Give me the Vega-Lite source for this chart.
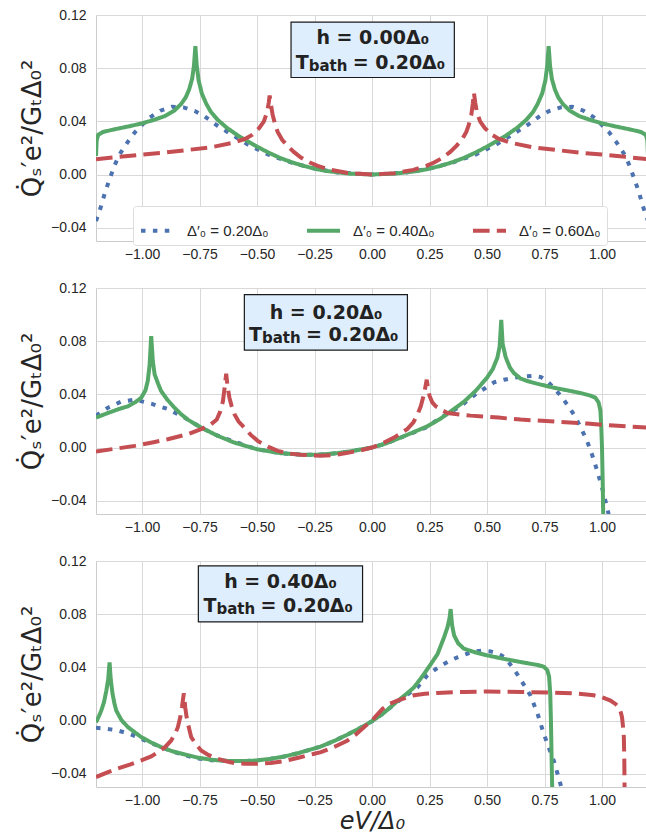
{
"$schema": "https://vega.github.io/schema/vega-lite/v6.json",
"background": "white",
"padding": {"left": 19, "top": 7, "right": 0, "bottom": 4},
"spacing": 18,
"datasets": {
"p1": [
{"s":"Δ′₀ = 0.20Δ₀","x":-1.2,"y":-0.035},{"s":"Δ′₀ = 0.20Δ₀","x":-1.18,"y":-0.025},{"s":"Δ′₀ = 0.20Δ₀","x":-1.16,"y":-0.013},{"s":"Δ′₀ = 0.20Δ₀","x":-1.14,"y":-0.003},{"s":"Δ′₀ = 0.20Δ₀","x":-1.12,"y":0.0065},{"s":"Δ′₀ = 0.20Δ₀","x":-1.1,"y":0.0145},{"s":"Δ′₀ = 0.20Δ₀","x":-1.06,"y":0.025},{"s":"Δ′₀ = 0.20Δ₀","x":-1.03,"y":0.032},{"s":"Δ′₀ = 0.20Δ₀","x":-0.97,"y":0.0425},{"s":"Δ′₀ = 0.20Δ₀","x":-0.92,"y":0.048},{"s":"Δ′₀ = 0.20Δ₀","x":-0.87,"y":0.051},{"s":"Δ′₀ = 0.20Δ₀","x":-0.82,"y":0.0505},{"s":"Δ′₀ = 0.20Δ₀","x":-0.77,"y":0.0478},{"s":"Δ′₀ = 0.20Δ₀","x":-0.73,"y":0.044},{"s":"Δ′₀ = 0.20Δ₀","x":-0.67,"y":0.0365},{"s":"Δ′₀ = 0.20Δ₀","x":-0.6,"y":0.029},{"s":"Δ′₀ = 0.20Δ₀","x":-0.54,"y":0.0225},{"s":"Δ′₀ = 0.20Δ₀","x":-0.45,"y":0.015},{"s":"Δ′₀ = 0.20Δ₀","x":-0.35,"y":0.009},{"s":"Δ′₀ = 0.20Δ₀","x":-0.25,"y":0.0045},{"s":"Δ′₀ = 0.20Δ₀","x":-0.15,"y":0.0015},{"s":"Δ′₀ = 0.20Δ₀","x":0,"y":0},{"s":"Δ′₀ = 0.20Δ₀","x":0.15,"y":0.0015},{"s":"Δ′₀ = 0.20Δ₀","x":0.25,"y":0.0045},{"s":"Δ′₀ = 0.20Δ₀","x":0.35,"y":0.009},{"s":"Δ′₀ = 0.20Δ₀","x":0.45,"y":0.015},{"s":"Δ′₀ = 0.20Δ₀","x":0.54,"y":0.0225},{"s":"Δ′₀ = 0.20Δ₀","x":0.6,"y":0.029},{"s":"Δ′₀ = 0.20Δ₀","x":0.67,"y":0.0365},{"s":"Δ′₀ = 0.20Δ₀","x":0.73,"y":0.044},{"s":"Δ′₀ = 0.20Δ₀","x":0.77,"y":0.0478},{"s":"Δ′₀ = 0.20Δ₀","x":0.82,"y":0.0505},{"s":"Δ′₀ = 0.20Δ₀","x":0.87,"y":0.051},{"s":"Δ′₀ = 0.20Δ₀","x":0.92,"y":0.048},{"s":"Δ′₀ = 0.20Δ₀","x":0.97,"y":0.0425},{"s":"Δ′₀ = 0.20Δ₀","x":1.03,"y":0.032},{"s":"Δ′₀ = 0.20Δ₀","x":1.06,"y":0.025},{"s":"Δ′₀ = 0.20Δ₀","x":1.1,"y":0.0145},{"s":"Δ′₀ = 0.20Δ₀","x":1.12,"y":0.0065},{"s":"Δ′₀ = 0.20Δ₀","x":1.14,"y":-0.003},{"s":"Δ′₀ = 0.20Δ₀","x":1.16,"y":-0.013},{"s":"Δ′₀ = 0.20Δ₀","x":1.18,"y":-0.025},{"s":"Δ′₀ = 0.20Δ₀","x":1.2,"y":-0.035},
{"s":"Δ′₀ = 0.40Δ₀","x":-1.2,"y":0.014},{"s":"Δ′₀ = 0.40Δ₀","x":-1.197,"y":0.026},{"s":"Δ′₀ = 0.40Δ₀","x":-1.19,"y":0.03},{"s":"Δ′₀ = 0.40Δ₀","x":-1.17,"y":0.032},{"s":"Δ′₀ = 0.40Δ₀","x":-1.12,"y":0.034},{"s":"Δ′₀ = 0.40Δ₀","x":-1.05,"y":0.0365},{"s":"Δ′₀ = 0.40Δ₀","x":-1.0,"y":0.0385},{"s":"Δ′₀ = 0.40Δ₀","x":-0.95,"y":0.041},{"s":"Δ′₀ = 0.40Δ₀","x":-0.9,"y":0.044},{"s":"Δ′₀ = 0.40Δ₀","x":-0.86,"y":0.048},{"s":"Δ′₀ = 0.40Δ₀","x":-0.83,"y":0.053},{"s":"Δ′₀ = 0.40Δ₀","x":-0.81,"y":0.058},{"s":"Δ′₀ = 0.40Δ₀","x":-0.795,"y":0.064},{"s":"Δ′₀ = 0.40Δ₀","x":-0.782,"y":0.072},{"s":"Δ′₀ = 0.40Δ₀","x":-0.774,"y":0.082},{"s":"Δ′₀ = 0.40Δ₀","x":-0.768,"y":0.0965},{"s":"Δ′₀ = 0.40Δ₀","x":-0.762,"y":0.082},{"s":"Δ′₀ = 0.40Δ₀","x":-0.754,"y":0.071},{"s":"Δ′₀ = 0.40Δ₀","x":-0.74,"y":0.061},{"s":"Δ′₀ = 0.40Δ₀","x":-0.72,"y":0.053},{"s":"Δ′₀ = 0.40Δ₀","x":-0.7,"y":0.047},{"s":"Δ′₀ = 0.40Δ₀","x":-0.67,"y":0.041},{"s":"Δ′₀ = 0.40Δ₀","x":-0.63,"y":0.035},{"s":"Δ′₀ = 0.40Δ₀","x":-0.58,"y":0.029},{"s":"Δ′₀ = 0.40Δ₀","x":-0.54,"y":0.025},{"s":"Δ′₀ = 0.40Δ₀","x":-0.5,"y":0.021},{"s":"Δ′₀ = 0.40Δ₀","x":-0.45,"y":0.0165},{"s":"Δ′₀ = 0.40Δ₀","x":-0.4,"y":0.0125},{"s":"Δ′₀ = 0.40Δ₀","x":-0.35,"y":0.0093},{"s":"Δ′₀ = 0.40Δ₀","x":-0.3,"y":0.0066},{"s":"Δ′₀ = 0.40Δ₀","x":-0.25,"y":0.0044},{"s":"Δ′₀ = 0.40Δ₀","x":-0.2,"y":0.0027},{"s":"Δ′₀ = 0.40Δ₀","x":-0.1,"y":0.0007},{"s":"Δ′₀ = 0.40Δ₀","x":0,"y":0},{"s":"Δ′₀ = 0.40Δ₀","x":0.1,"y":0.0007},{"s":"Δ′₀ = 0.40Δ₀","x":0.2,"y":0.0027},{"s":"Δ′₀ = 0.40Δ₀","x":0.25,"y":0.0044},{"s":"Δ′₀ = 0.40Δ₀","x":0.3,"y":0.0066},{"s":"Δ′₀ = 0.40Δ₀","x":0.35,"y":0.0093},{"s":"Δ′₀ = 0.40Δ₀","x":0.4,"y":0.0125},{"s":"Δ′₀ = 0.40Δ₀","x":0.45,"y":0.0165},{"s":"Δ′₀ = 0.40Δ₀","x":0.5,"y":0.021},{"s":"Δ′₀ = 0.40Δ₀","x":0.54,"y":0.025},{"s":"Δ′₀ = 0.40Δ₀","x":0.58,"y":0.029},{"s":"Δ′₀ = 0.40Δ₀","x":0.63,"y":0.035},{"s":"Δ′₀ = 0.40Δ₀","x":0.67,"y":0.041},{"s":"Δ′₀ = 0.40Δ₀","x":0.7,"y":0.047},{"s":"Δ′₀ = 0.40Δ₀","x":0.72,"y":0.053},{"s":"Δ′₀ = 0.40Δ₀","x":0.74,"y":0.061},{"s":"Δ′₀ = 0.40Δ₀","x":0.754,"y":0.071},{"s":"Δ′₀ = 0.40Δ₀","x":0.762,"y":0.082},{"s":"Δ′₀ = 0.40Δ₀","x":0.768,"y":0.0965},{"s":"Δ′₀ = 0.40Δ₀","x":0.774,"y":0.082},{"s":"Δ′₀ = 0.40Δ₀","x":0.782,"y":0.072},{"s":"Δ′₀ = 0.40Δ₀","x":0.795,"y":0.064},{"s":"Δ′₀ = 0.40Δ₀","x":0.81,"y":0.058},{"s":"Δ′₀ = 0.40Δ₀","x":0.83,"y":0.053},{"s":"Δ′₀ = 0.40Δ₀","x":0.86,"y":0.048},{"s":"Δ′₀ = 0.40Δ₀","x":0.9,"y":0.044},{"s":"Δ′₀ = 0.40Δ₀","x":0.95,"y":0.041},{"s":"Δ′₀ = 0.40Δ₀","x":1.0,"y":0.0385},{"s":"Δ′₀ = 0.40Δ₀","x":1.05,"y":0.0365},{"s":"Δ′₀ = 0.40Δ₀","x":1.12,"y":0.034},{"s":"Δ′₀ = 0.40Δ₀","x":1.17,"y":0.032},{"s":"Δ′₀ = 0.40Δ₀","x":1.19,"y":0.03},{"s":"Δ′₀ = 0.40Δ₀","x":1.197,"y":0.026},{"s":"Δ′₀ = 0.40Δ₀","x":1.2,"y":0.014},
{"s":"Δ′₀ = 0.60Δ₀","x":-1.2,"y":0.0115},{"s":"Δ′₀ = 0.60Δ₀","x":-1.1,"y":0.0133},{"s":"Δ′₀ = 0.60Δ₀","x":-1.0,"y":0.015},{"s":"Δ′₀ = 0.60Δ₀","x":-0.9,"y":0.0165},{"s":"Δ′₀ = 0.60Δ₀","x":-0.8,"y":0.0185},{"s":"Δ′₀ = 0.60Δ₀","x":-0.7,"y":0.0205},{"s":"Δ′₀ = 0.60Δ₀","x":-0.6,"y":0.024},{"s":"Δ′₀ = 0.60Δ₀","x":-0.55,"y":0.027},{"s":"Δ′₀ = 0.60Δ₀","x":-0.52,"y":0.03},{"s":"Δ′₀ = 0.60Δ₀","x":-0.49,"y":0.035},{"s":"Δ′₀ = 0.60Δ₀","x":-0.47,"y":0.04},{"s":"Δ′₀ = 0.60Δ₀","x":-0.456,"y":0.047},{"s":"Δ′₀ = 0.60Δ₀","x":-0.449,"y":0.054},{"s":"Δ′₀ = 0.60Δ₀","x":-0.445,"y":0.0595},{"s":"Δ′₀ = 0.60Δ₀","x":-0.44,"y":0.053},{"s":"Δ′₀ = 0.60Δ₀","x":-0.432,"y":0.045},{"s":"Δ′₀ = 0.60Δ₀","x":-0.42,"y":0.037},{"s":"Δ′₀ = 0.60Δ₀","x":-0.41,"y":0.032},{"s":"Δ′₀ = 0.60Δ₀","x":-0.39,"y":0.026},{"s":"Δ′₀ = 0.60Δ₀","x":-0.367,"y":0.0215},{"s":"Δ′₀ = 0.60Δ₀","x":-0.34,"y":0.017},{"s":"Δ′₀ = 0.60Δ₀","x":-0.309,"y":0.0128},{"s":"Δ′₀ = 0.60Δ₀","x":-0.27,"y":0.009},{"s":"Δ′₀ = 0.60Δ₀","x":-0.236,"y":0.0065},{"s":"Δ′₀ = 0.60Δ₀","x":-0.18,"y":0.0035},{"s":"Δ′₀ = 0.60Δ₀","x":-0.1,"y":0.001},{"s":"Δ′₀ = 0.60Δ₀","x":0,"y":0},{"s":"Δ′₀ = 0.60Δ₀","x":0.1,"y":0.001},{"s":"Δ′₀ = 0.60Δ₀","x":0.18,"y":0.0035},{"s":"Δ′₀ = 0.60Δ₀","x":0.236,"y":0.0065},{"s":"Δ′₀ = 0.60Δ₀","x":0.27,"y":0.009},{"s":"Δ′₀ = 0.60Δ₀","x":0.309,"y":0.0128},{"s":"Δ′₀ = 0.60Δ₀","x":0.34,"y":0.017},{"s":"Δ′₀ = 0.60Δ₀","x":0.367,"y":0.0215},{"s":"Δ′₀ = 0.60Δ₀","x":0.39,"y":0.026},{"s":"Δ′₀ = 0.60Δ₀","x":0.41,"y":0.032},{"s":"Δ′₀ = 0.60Δ₀","x":0.42,"y":0.037},{"s":"Δ′₀ = 0.60Δ₀","x":0.432,"y":0.045},{"s":"Δ′₀ = 0.60Δ₀","x":0.438,"y":0.053},{"s":"Δ′₀ = 0.60Δ₀","x":0.443,"y":0.0615},{"s":"Δ′₀ = 0.60Δ₀","x":0.449,"y":0.054},{"s":"Δ′₀ = 0.60Δ₀","x":0.456,"y":0.047},{"s":"Δ′₀ = 0.60Δ₀","x":0.47,"y":0.04},{"s":"Δ′₀ = 0.60Δ₀","x":0.49,"y":0.035},{"s":"Δ′₀ = 0.60Δ₀","x":0.52,"y":0.03},{"s":"Δ′₀ = 0.60Δ₀","x":0.55,"y":0.027},{"s":"Δ′₀ = 0.60Δ₀","x":0.6,"y":0.024},{"s":"Δ′₀ = 0.60Δ₀","x":0.7,"y":0.0205},{"s":"Δ′₀ = 0.60Δ₀","x":0.8,"y":0.0185},{"s":"Δ′₀ = 0.60Δ₀","x":0.9,"y":0.0165},{"s":"Δ′₀ = 0.60Δ₀","x":1.0,"y":0.015},{"s":"Δ′₀ = 0.60Δ₀","x":1.1,"y":0.0133},{"s":"Δ′₀ = 0.60Δ₀","x":1.2,"y":0.0115}
],
"p2": [
{"s":"Δ′₀ = 0.20Δ₀","x":-1.2,"y":0.024},{"s":"Δ′₀ = 0.20Δ₀","x":-1.148,"y":0.03},{"s":"Δ′₀ = 0.20Δ₀","x":-1.09,"y":0.0345},{"s":"Δ′₀ = 0.20Δ₀","x":-1.032,"y":0.036},{"s":"Δ′₀ = 0.20Δ₀","x":-0.96,"y":0.033},{"s":"Δ′₀ = 0.20Δ₀","x":-0.888,"y":0.029},{"s":"Δ′₀ = 0.20Δ₀","x":-0.815,"y":0.0225},{"s":"Δ′₀ = 0.20Δ₀","x":-0.743,"y":0.015},{"s":"Δ′₀ = 0.20Δ₀","x":-0.671,"y":0.009},{"s":"Δ′₀ = 0.20Δ₀","x":-0.6,"y":0.0045},{"s":"Δ′₀ = 0.20Δ₀","x":-0.5,"y":-0.0013},{"s":"Δ′₀ = 0.20Δ₀","x":-0.4,"y":-0.0042},{"s":"Δ′₀ = 0.20Δ₀","x":-0.3,"y":-0.0055},{"s":"Δ′₀ = 0.20Δ₀","x":-0.222,"y":-0.0053},{"s":"Δ′₀ = 0.20Δ₀","x":-0.15,"y":-0.0042},{"s":"Δ′₀ = 0.20Δ₀","x":-0.1,"y":-0.003},{"s":"Δ′₀ = 0.20Δ₀","x":0,"y":0},{"s":"Δ′₀ = 0.20Δ₀","x":0.06,"y":0.003},{"s":"Δ′₀ = 0.20Δ₀","x":0.125,"y":0.0075},{"s":"Δ′₀ = 0.20Δ₀","x":0.18,"y":0.0112},{"s":"Δ′₀ = 0.20Δ₀","x":0.241,"y":0.0155},{"s":"Δ′₀ = 0.20Δ₀","x":0.285,"y":0.021},{"s":"Δ′₀ = 0.20Δ₀","x":0.335,"y":0.026},{"s":"Δ′₀ = 0.20Δ₀","x":0.385,"y":0.031},{"s":"Δ′₀ = 0.20Δ₀","x":0.42,"y":0.036},{"s":"Δ′₀ = 0.20Δ₀","x":0.458,"y":0.041},{"s":"Δ′₀ = 0.20Δ₀","x":0.495,"y":0.045},{"s":"Δ′₀ = 0.20Δ₀","x":0.53,"y":0.049},{"s":"Δ′₀ = 0.20Δ₀","x":0.575,"y":0.051},{"s":"Δ′₀ = 0.20Δ₀","x":0.617,"y":0.0525},{"s":"Δ′₀ = 0.20Δ₀","x":0.66,"y":0.0535},{"s":"Δ′₀ = 0.20Δ₀","x":0.703,"y":0.054},{"s":"Δ′₀ = 0.20Δ₀","x":0.735,"y":0.053},{"s":"Δ′₀ = 0.20Δ₀","x":0.761,"y":0.05},{"s":"Δ′₀ = 0.20Δ₀","x":0.79,"y":0.045},{"s":"Δ′₀ = 0.20Δ₀","x":0.82,"y":0.039},{"s":"Δ′₀ = 0.20Δ₀","x":0.85,"y":0.032},{"s":"Δ′₀ = 0.20Δ₀","x":0.877,"y":0.025},{"s":"Δ′₀ = 0.20Δ₀","x":0.905,"y":0.016},{"s":"Δ′₀ = 0.20Δ₀","x":0.935,"y":0.005},{"s":"Δ′₀ = 0.20Δ₀","x":0.96,"y":-0.007},{"s":"Δ′₀ = 0.20Δ₀","x":0.979,"y":-0.0175},{"s":"Δ′₀ = 0.20Δ₀","x":1.0,"y":-0.03},{"s":"Δ′₀ = 0.20Δ₀","x":1.022,"y":-0.045},{"s":"Δ′₀ = 0.20Δ₀","x":1.035,"y":-0.055},
{"s":"Δ′₀ = 0.40Δ₀","x":-1.2,"y":0.0225},{"s":"Δ′₀ = 0.40Δ₀","x":-1.148,"y":0.026},{"s":"Δ′₀ = 0.40Δ₀","x":-1.1,"y":0.029},{"s":"Δ′₀ = 0.40Δ₀","x":-1.061,"y":0.031},{"s":"Δ′₀ = 0.40Δ₀","x":-1.03,"y":0.034},{"s":"Δ′₀ = 0.40Δ₀","x":-1.003,"y":0.0375},{"s":"Δ′₀ = 0.40Δ₀","x":-0.985,"y":0.043},{"s":"Δ′₀ = 0.40Δ₀","x":-0.975,"y":0.05},{"s":"Δ′₀ = 0.40Δ₀","x":-0.967,"y":0.062},{"s":"Δ′₀ = 0.40Δ₀","x":-0.96,"y":0.0838},{"s":"Δ′₀ = 0.40Δ₀","x":-0.953,"y":0.065},{"s":"Δ′₀ = 0.40Δ₀","x":-0.945,"y":0.055},{"s":"Δ′₀ = 0.40Δ₀","x":-0.93,"y":0.048},{"s":"Δ′₀ = 0.40Δ₀","x":-0.917,"y":0.0425},{"s":"Δ′₀ = 0.40Δ₀","x":-0.89,"y":0.036},{"s":"Δ′₀ = 0.40Δ₀","x":-0.859,"y":0.03},{"s":"Δ′₀ = 0.40Δ₀","x":-0.83,"y":0.025},{"s":"Δ′₀ = 0.40Δ₀","x":-0.801,"y":0.021},{"s":"Δ′₀ = 0.40Δ₀","x":-0.743,"y":0.015},{"s":"Δ′₀ = 0.40Δ₀","x":-0.671,"y":0.0088},{"s":"Δ′₀ = 0.40Δ₀","x":-0.6,"y":0.0038},{"s":"Δ′₀ = 0.40Δ₀","x":-0.5,"y":-0.0013},{"s":"Δ′₀ = 0.40Δ₀","x":-0.4,"y":-0.0042},{"s":"Δ′₀ = 0.40Δ₀","x":-0.3,"y":-0.0055},{"s":"Δ′₀ = 0.40Δ₀","x":-0.222,"y":-0.0053},{"s":"Δ′₀ = 0.40Δ₀","x":-0.15,"y":-0.0042},{"s":"Δ′₀ = 0.40Δ₀","x":-0.1,"y":-0.003},{"s":"Δ′₀ = 0.40Δ₀","x":0,"y":0},{"s":"Δ′₀ = 0.40Δ₀","x":0.06,"y":0.003},{"s":"Δ′₀ = 0.40Δ₀","x":0.125,"y":0.0075},{"s":"Δ′₀ = 0.40Δ₀","x":0.18,"y":0.0115},{"s":"Δ′₀ = 0.40Δ₀","x":0.241,"y":0.016},{"s":"Δ′₀ = 0.40Δ₀","x":0.3,"y":0.022},{"s":"Δ′₀ = 0.40Δ₀","x":0.357,"y":0.029},{"s":"Δ′₀ = 0.40Δ₀","x":0.4,"y":0.0345},{"s":"Δ′₀ = 0.40Δ₀","x":0.45,"y":0.0425},{"s":"Δ′₀ = 0.40Δ₀","x":0.5,"y":0.0525},{"s":"Δ′₀ = 0.40Δ₀","x":0.525,"y":0.059},{"s":"Δ′₀ = 0.40Δ₀","x":0.545,"y":0.0675},{"s":"Δ′₀ = 0.40Δ₀","x":0.555,"y":0.076},{"s":"Δ′₀ = 0.40Δ₀","x":0.562,"y":0.096},{"s":"Δ′₀ = 0.40Δ₀","x":0.568,"y":0.078},{"s":"Δ′₀ = 0.40Δ₀","x":0.581,"y":0.068},{"s":"Δ′₀ = 0.40Δ₀","x":0.6,"y":0.06},{"s":"Δ′₀ = 0.40Δ₀","x":0.617,"y":0.056},{"s":"Δ′₀ = 0.40Δ₀","x":0.645,"y":0.052},{"s":"Δ′₀ = 0.40Δ₀","x":0.675,"y":0.05},{"s":"Δ′₀ = 0.40Δ₀","x":0.73,"y":0.0475},{"s":"Δ′₀ = 0.40Δ₀","x":0.79,"y":0.045},{"s":"Δ′₀ = 0.40Δ₀","x":0.85,"y":0.043},{"s":"Δ′₀ = 0.40Δ₀","x":0.906,"y":0.041},{"s":"Δ′₀ = 0.40Δ₀","x":0.95,"y":0.039},{"s":"Δ′₀ = 0.40Δ₀","x":0.971,"y":0.0375},{"s":"Δ′₀ = 0.40Δ₀","x":0.985,"y":0.034},{"s":"Δ′₀ = 0.40Δ₀","x":0.993,"y":0.028},{"s":"Δ′₀ = 0.40Δ₀","x":0.997,"y":0.015},{"s":"Δ′₀ = 0.40Δ₀","x":1.0,"y":0.0},{"s":"Δ′₀ = 0.40Δ₀","x":1.003,"y":-0.025},{"s":"Δ′₀ = 0.40Δ₀","x":1.005,"y":-0.048},{"s":"Δ′₀ = 0.40Δ₀","x":1.007,"y":-0.07},
{"s":"Δ′₀ = 0.60Δ₀","x":-1.2,"y":-0.003},{"s":"Δ′₀ = 0.60Δ₀","x":-1.1,"y":-0.0005},{"s":"Δ′₀ = 0.60Δ₀","x":-1.032,"y":0.00125},{"s":"Δ′₀ = 0.60Δ₀","x":-0.95,"y":0.004},{"s":"Δ′₀ = 0.60Δ₀","x":-0.888,"y":0.00625},{"s":"Δ′₀ = 0.60Δ₀","x":-0.801,"y":0.01},{"s":"Δ′₀ = 0.60Δ₀","x":-0.743,"y":0.0138},{"s":"Δ′₀ = 0.60Δ₀","x":-0.7,"y":0.0175},{"s":"Δ′₀ = 0.60Δ₀","x":-0.675,"y":0.021},{"s":"Δ′₀ = 0.60Δ₀","x":-0.66,"y":0.027},{"s":"Δ′₀ = 0.60Δ₀","x":-0.648,"y":0.035},{"s":"Δ′₀ = 0.60Δ₀","x":-0.64,"y":0.046},{"s":"Δ′₀ = 0.60Δ₀","x":-0.634,"y":0.0555},{"s":"Δ′₀ = 0.60Δ₀","x":-0.628,"y":0.046},{"s":"Δ′₀ = 0.60Δ₀","x":-0.62,"y":0.0375},{"s":"Δ′₀ = 0.60Δ₀","x":-0.61,"y":0.031},{"s":"Δ′₀ = 0.60Δ₀","x":-0.598,"y":0.025},{"s":"Δ′₀ = 0.60Δ₀","x":-0.58,"y":0.0195},{"s":"Δ′₀ = 0.60Δ₀","x":-0.555,"y":0.015},{"s":"Δ′₀ = 0.60Δ₀","x":-0.527,"y":0.0095},{"s":"Δ′₀ = 0.60Δ₀","x":-0.497,"y":0.005},{"s":"Δ′₀ = 0.60Δ₀","x":-0.45,"y":0.0005},{"s":"Δ′₀ = 0.60Δ₀","x":-0.41,"y":-0.0025},{"s":"Δ′₀ = 0.60Δ₀","x":-0.36,"y":-0.0045},{"s":"Δ′₀ = 0.60Δ₀","x":-0.309,"y":-0.0055},{"s":"Δ′₀ = 0.60Δ₀","x":-0.222,"y":-0.0062},{"s":"Δ′₀ = 0.60Δ₀","x":-0.16,"y":-0.0055},{"s":"Δ′₀ = 0.60Δ₀","x":-0.106,"y":-0.004},{"s":"Δ′₀ = 0.60Δ₀","x":-0.05,"y":-0.0022},{"s":"Δ′₀ = 0.60Δ₀","x":0,"y":0},{"s":"Δ′₀ = 0.60Δ₀","x":0.05,"y":0.0035},{"s":"Δ′₀ = 0.60Δ₀","x":0.096,"y":0.0075},{"s":"Δ′₀ = 0.60Δ₀","x":0.154,"y":0.014},{"s":"Δ′₀ = 0.60Δ₀","x":0.18,"y":0.019},{"s":"Δ′₀ = 0.60Δ₀","x":0.197,"y":0.0245},{"s":"Δ′₀ = 0.60Δ₀","x":0.212,"y":0.031},{"s":"Δ′₀ = 0.60Δ₀","x":0.226,"y":0.04},{"s":"Δ′₀ = 0.60Δ₀","x":0.238,"y":0.051},{"s":"Δ′₀ = 0.60Δ₀","x":0.243,"y":0.045},{"s":"Δ′₀ = 0.60Δ₀","x":0.25,"y":0.039},{"s":"Δ′₀ = 0.60Δ₀","x":0.262,"y":0.034},{"s":"Δ′₀ = 0.60Δ₀","x":0.277,"y":0.031},{"s":"Δ′₀ = 0.60Δ₀","x":0.3,"y":0.0285},{"s":"Δ′₀ = 0.60Δ₀","x":0.328,"y":0.026},{"s":"Δ′₀ = 0.60Δ₀","x":0.38,"y":0.0248},{"s":"Δ′₀ = 0.60Δ₀","x":0.429,"y":0.024},{"s":"Δ′₀ = 0.60Δ₀","x":0.55,"y":0.0225},{"s":"Δ′₀ = 0.60Δ₀","x":0.646,"y":0.021},{"s":"Δ′₀ = 0.60Δ₀","x":0.8,"y":0.0195},{"s":"Δ′₀ = 0.60Δ₀","x":0.935,"y":0.018},{"s":"Δ′₀ = 0.60Δ₀","x":1.05,"y":0.0165},{"s":"Δ′₀ = 0.60Δ₀","x":1.2,"y":0.015}
],
"p3": [
{"s":"Δ′₀ = 0.20Δ₀","x":-1.2,"y":-0.0055},{"s":"Δ′₀ = 0.20Δ₀","x":-1.15,"y":-0.0063},{"s":"Δ′₀ = 0.20Δ₀","x":-1.105,"y":-0.0075},{"s":"Δ′₀ = 0.20Δ₀","x":-1.05,"y":-0.0103},{"s":"Δ′₀ = 0.20Δ₀","x":-1.003,"y":-0.0138},{"s":"Δ′₀ = 0.20Δ₀","x":-0.96,"y":-0.017},{"s":"Δ′₀ = 0.20Δ₀","x":-0.917,"y":-0.02},{"s":"Δ′₀ = 0.20Δ₀","x":-0.87,"y":-0.0232},{"s":"Δ′₀ = 0.20Δ₀","x":-0.815,"y":-0.026},{"s":"Δ′₀ = 0.20Δ₀","x":-0.76,"y":-0.0285},{"s":"Δ′₀ = 0.20Δ₀","x":-0.7,"y":-0.0298},{"s":"Δ′₀ = 0.20Δ₀","x":-0.64,"y":-0.0303},{"s":"Δ′₀ = 0.20Δ₀","x":-0.598,"y":-0.0305},{"s":"Δ′₀ = 0.20Δ₀","x":-0.55,"y":-0.0305},{"s":"Δ′₀ = 0.20Δ₀","x":-0.5,"y":-0.03},{"s":"Δ′₀ = 0.20Δ₀","x":-0.44,"y":-0.0288},{"s":"Δ′₀ = 0.20Δ₀","x":-0.381,"y":-0.027},{"s":"Δ′₀ = 0.20Δ₀","x":-0.32,"y":-0.0245},{"s":"Δ′₀ = 0.20Δ₀","x":-0.251,"y":-0.021},{"s":"Δ′₀ = 0.20Δ₀","x":-0.222,"y":-0.0195},{"s":"Δ′₀ = 0.20Δ₀","x":-0.16,"y":-0.015},{"s":"Δ′₀ = 0.20Δ₀","x":-0.106,"y":-0.0105},{"s":"Δ′₀ = 0.20Δ₀","x":-0.05,"y":-0.0055},{"s":"Δ′₀ = 0.20Δ₀","x":0,"y":-0.0005},{"s":"Δ′₀ = 0.20Δ₀","x":0.05,"y":0.0055},{"s":"Δ′₀ = 0.20Δ₀","x":0.11,"y":0.014},{"s":"Δ′₀ = 0.20Δ₀","x":0.15,"y":0.019},{"s":"Δ′₀ = 0.20Δ₀","x":0.198,"y":0.025},{"s":"Δ′₀ = 0.20Δ₀","x":0.241,"y":0.034},{"s":"Δ′₀ = 0.20Δ₀","x":0.28,"y":0.039},{"s":"Δ′₀ = 0.20Δ₀","x":0.313,"y":0.0425},{"s":"Δ′₀ = 0.20Δ₀","x":0.345,"y":0.0455},{"s":"Δ′₀ = 0.20Δ₀","x":0.371,"y":0.0475},{"s":"Δ′₀ = 0.20Δ₀","x":0.41,"y":0.05},{"s":"Δ′₀ = 0.20Δ₀","x":0.443,"y":0.052},{"s":"Δ′₀ = 0.20Δ₀","x":0.48,"y":0.0525},{"s":"Δ′₀ = 0.20Δ₀","x":0.516,"y":0.052},{"s":"Δ′₀ = 0.20Δ₀","x":0.545,"y":0.0505},{"s":"Δ′₀ = 0.20Δ₀","x":0.573,"y":0.048},{"s":"Δ′₀ = 0.20Δ₀","x":0.6,"y":0.0425},{"s":"Δ′₀ = 0.20Δ₀","x":0.631,"y":0.035},{"s":"Δ′₀ = 0.20Δ₀","x":0.66,"y":0.027},{"s":"Δ′₀ = 0.20Δ₀","x":0.689,"y":0.0188},{"s":"Δ′₀ = 0.20Δ₀","x":0.72,"y":0.005},{"s":"Δ′₀ = 0.20Δ₀","x":0.747,"y":-0.01},{"s":"Δ′₀ = 0.20Δ₀","x":0.77,"y":-0.021},{"s":"Δ′₀ = 0.20Δ₀","x":0.79,"y":-0.03},{"s":"Δ′₀ = 0.20Δ₀","x":0.805,"y":-0.039},{"s":"Δ′₀ = 0.20Δ₀","x":0.819,"y":-0.0475},{"s":"Δ′₀ = 0.20Δ₀","x":0.83,"y":-0.055},
{"s":"Δ′₀ = 0.40Δ₀","x":-1.2,"y":-0.0013},{"s":"Δ′₀ = 0.40Δ₀","x":-1.188,"y":0.003},{"s":"Δ′₀ = 0.40Δ₀","x":-1.177,"y":0.0075},{"s":"Δ′₀ = 0.40Δ₀","x":-1.165,"y":0.014},{"s":"Δ′₀ = 0.40Δ₀","x":-1.155,"y":0.0225},{"s":"Δ′₀ = 0.40Δ₀","x":-1.147,"y":0.031},{"s":"Δ′₀ = 0.40Δ₀","x":-1.141,"y":0.0438},{"s":"Δ′₀ = 0.40Δ₀","x":-1.136,"y":0.031},{"s":"Δ′₀ = 0.40Δ₀","x":-1.128,"y":0.02},{"s":"Δ′₀ = 0.40Δ₀","x":-1.12,"y":0.013},{"s":"Δ′₀ = 0.40Δ₀","x":-1.112,"y":0.0075},{"s":"Δ′₀ = 0.40Δ₀","x":-1.09,"y":0.0005},{"s":"Δ′₀ = 0.40Δ₀","x":-1.061,"y":-0.005},{"s":"Δ′₀ = 0.40Δ₀","x":-1.03,"y":-0.009},{"s":"Δ′₀ = 0.40Δ₀","x":-1.003,"y":-0.0125},{"s":"Δ′₀ = 0.40Δ₀","x":-0.96,"y":-0.0165},{"s":"Δ′₀ = 0.40Δ₀","x":-0.917,"y":-0.02},{"s":"Δ′₀ = 0.40Δ₀","x":-0.87,"y":-0.023},{"s":"Δ′₀ = 0.40Δ₀","x":-0.815,"y":-0.0255},{"s":"Δ′₀ = 0.40Δ₀","x":-0.76,"y":-0.0278},{"s":"Δ′₀ = 0.40Δ₀","x":-0.7,"y":-0.0295},{"s":"Δ′₀ = 0.40Δ₀","x":-0.64,"y":-0.0303},{"s":"Δ′₀ = 0.40Δ₀","x":-0.598,"y":-0.0305},{"s":"Δ′₀ = 0.40Δ₀","x":-0.55,"y":-0.0305},{"s":"Δ′₀ = 0.40Δ₀","x":-0.5,"y":-0.03},{"s":"Δ′₀ = 0.40Δ₀","x":-0.44,"y":-0.0288},{"s":"Δ′₀ = 0.40Δ₀","x":-0.381,"y":-0.027},{"s":"Δ′₀ = 0.40Δ₀","x":-0.32,"y":-0.0245},{"s":"Δ′₀ = 0.40Δ₀","x":-0.251,"y":-0.021},{"s":"Δ′₀ = 0.40Δ₀","x":-0.222,"y":-0.0195},{"s":"Δ′₀ = 0.40Δ₀","x":-0.16,"y":-0.015},{"s":"Δ′₀ = 0.40Δ₀","x":-0.106,"y":-0.0105},{"s":"Δ′₀ = 0.40Δ₀","x":-0.05,"y":-0.0055},{"s":"Δ′₀ = 0.40Δ₀","x":0,"y":-0.0005},{"s":"Δ′₀ = 0.40Δ₀","x":0.05,"y":0.0055},{"s":"Δ′₀ = 0.40Δ₀","x":0.11,"y":0.0145},{"s":"Δ′₀ = 0.40Δ₀","x":0.15,"y":0.02},{"s":"Δ′₀ = 0.40Δ₀","x":0.183,"y":0.025},{"s":"Δ′₀ = 0.40Δ₀","x":0.22,"y":0.0335},{"s":"Δ′₀ = 0.40Δ₀","x":0.256,"y":0.0425},{"s":"Δ′₀ = 0.40Δ₀","x":0.285,"y":0.05},{"s":"Δ′₀ = 0.40Δ₀","x":0.313,"y":0.0625},{"s":"Δ′₀ = 0.40Δ₀","x":0.328,"y":0.07},{"s":"Δ′₀ = 0.40Δ₀","x":0.337,"y":0.077},{"s":"Δ′₀ = 0.40Δ₀","x":0.342,"y":0.0838},{"s":"Δ′₀ = 0.40Δ₀","x":0.348,"y":0.072},{"s":"Δ′₀ = 0.40Δ₀","x":0.357,"y":0.064},{"s":"Δ′₀ = 0.40Δ₀","x":0.375,"y":0.058},{"s":"Δ′₀ = 0.40Δ₀","x":0.4,"y":0.054},{"s":"Δ′₀ = 0.40Δ₀","x":0.45,"y":0.0512},{"s":"Δ′₀ = 0.40Δ₀","x":0.501,"y":0.049},{"s":"Δ′₀ = 0.40Δ₀","x":0.57,"y":0.0465},{"s":"Δ′₀ = 0.40Δ₀","x":0.646,"y":0.044},{"s":"Δ′₀ = 0.40Δ₀","x":0.72,"y":0.0418},{"s":"Δ′₀ = 0.40Δ₀","x":0.747,"y":0.0405},{"s":"Δ′₀ = 0.40Δ₀","x":0.762,"y":0.038},{"s":"Δ′₀ = 0.40Δ₀","x":0.77,"y":0.033},{"s":"Δ′₀ = 0.40Δ₀","x":0.775,"y":0.02},{"s":"Δ′₀ = 0.40Δ₀","x":0.778,"y":0.0},{"s":"Δ′₀ = 0.40Δ₀","x":0.781,"y":-0.03},{"s":"Δ′₀ = 0.40Δ₀","x":0.784,"y":-0.055},{"s":"Δ′₀ = 0.40Δ₀","x":0.786,"y":-0.07},
{"s":"Δ′₀ = 0.60Δ₀","x":-1.2,"y":-0.0425},{"s":"Δ′₀ = 0.60Δ₀","x":-1.15,"y":-0.039},{"s":"Δ′₀ = 0.60Δ₀","x":-1.105,"y":-0.036},{"s":"Δ′₀ = 0.60Δ₀","x":-1.05,"y":-0.033},{"s":"Δ′₀ = 0.60Δ₀","x":-1.003,"y":-0.03},{"s":"Δ′₀ = 0.60Δ₀","x":-0.96,"y":-0.027},{"s":"Δ′₀ = 0.60Δ₀","x":-0.931,"y":-0.0238},{"s":"Δ′₀ = 0.60Δ₀","x":-0.9,"y":-0.02},{"s":"Δ′₀ = 0.60Δ₀","x":-0.873,"y":-0.015},{"s":"Δ′₀ = 0.60Δ₀","x":-0.855,"y":-0.0095},{"s":"Δ′₀ = 0.60Δ₀","x":-0.844,"y":-0.005},{"s":"Δ′₀ = 0.60Δ₀","x":-0.833,"y":0.003},{"s":"Δ′₀ = 0.60Δ₀","x":-0.826,"y":0.0105},{"s":"Δ′₀ = 0.60Δ₀","x":-0.818,"y":0.0205},{"s":"Δ′₀ = 0.60Δ₀","x":-0.812,"y":0.01},{"s":"Δ′₀ = 0.60Δ₀","x":-0.806,"y":0.0025},{"s":"Δ′₀ = 0.60Δ₀","x":-0.796,"y":-0.0055},{"s":"Δ′₀ = 0.60Δ₀","x":-0.786,"y":-0.0125},{"s":"Δ′₀ = 0.60Δ₀","x":-0.765,"y":-0.018},{"s":"Δ′₀ = 0.60Δ₀","x":-0.743,"y":-0.0225},{"s":"Δ′₀ = 0.60Δ₀","x":-0.71,"y":-0.026},{"s":"Δ′₀ = 0.60Δ₀","x":-0.671,"y":-0.0288},{"s":"Δ′₀ = 0.60Δ₀","x":-0.63,"y":-0.0308},{"s":"Δ′₀ = 0.60Δ₀","x":-0.598,"y":-0.032},{"s":"Δ′₀ = 0.60Δ₀","x":-0.55,"y":-0.0325},{"s":"Δ′₀ = 0.60Δ₀","x":-0.5,"y":-0.0325},{"s":"Δ′₀ = 0.60Δ₀","x":-0.44,"y":-0.032},{"s":"Δ′₀ = 0.60Δ₀","x":-0.381,"y":-0.0305},{"s":"Δ′₀ = 0.60Δ₀","x":-0.32,"y":-0.028},{"s":"Δ′₀ = 0.60Δ₀","x":-0.251,"y":-0.025},{"s":"Δ′₀ = 0.60Δ₀","x":-0.222,"y":-0.0238},{"s":"Δ′₀ = 0.60Δ₀","x":-0.16,"y":-0.0195},{"s":"Δ′₀ = 0.60Δ₀","x":-0.106,"y":-0.015},{"s":"Δ′₀ = 0.60Δ₀","x":-0.07,"y":-0.0105},{"s":"Δ′₀ = 0.60Δ₀","x":-0.035,"y":-0.005},{"s":"Δ′₀ = 0.60Δ₀","x":0,"y":0},{"s":"Δ′₀ = 0.60Δ₀","x":0.023,"y":0.0045},{"s":"Δ′₀ = 0.60Δ₀","x":0.046,"y":0.0088},{"s":"Δ′₀ = 0.60Δ₀","x":0.075,"y":0.0125},{"s":"Δ′₀ = 0.60Δ₀","x":0.11,"y":0.015},{"s":"Δ′₀ = 0.60Δ₀","x":0.15,"y":0.0172},{"s":"Δ′₀ = 0.60Δ₀","x":0.183,"y":0.019},{"s":"Δ′₀ = 0.60Δ₀","x":0.23,"y":0.0202},{"s":"Δ′₀ = 0.60Δ₀","x":0.284,"y":0.0208},{"s":"Δ′₀ = 0.60Δ₀","x":0.4,"y":0.0215},{"s":"Δ′₀ = 0.60Δ₀","x":0.501,"y":0.0218},{"s":"Δ′₀ = 0.60Δ₀","x":0.65,"y":0.0215},{"s":"Δ′₀ = 0.60Δ₀","x":0.79,"y":0.021},{"s":"Δ′₀ = 0.60Δ₀","x":0.9,"y":0.0202},{"s":"Δ′₀ = 0.60Δ₀","x":0.964,"y":0.019},{"s":"Δ′₀ = 0.60Δ₀","x":1.0,"y":0.0175},{"s":"Δ′₀ = 0.60Δ₀","x":1.037,"y":0.015},{"s":"Δ′₀ = 0.60Δ₀","x":1.06,"y":0.0123},{"s":"Δ′₀ = 0.60Δ₀","x":1.073,"y":0.01},{"s":"Δ′₀ = 0.60Δ₀","x":1.082,"y":0.006},{"s":"Δ′₀ = 0.60Δ₀","x":1.087,"y":0.0025},{"s":"Δ′₀ = 0.60Δ₀","x":1.091,"y":-0.004},{"s":"Δ′₀ = 0.60Δ₀","x":1.095,"y":-0.0125},{"s":"Δ′₀ = 0.60Δ₀","x":1.097,"y":-0.03},{"s":"Δ′₀ = 0.60Δ₀","x":1.098,"y":-0.049},{"s":"Δ′₀ = 0.60Δ₀","x":1.099,"y":-0.07}
]
},
"resolve": {"legend": {"color": "independent", "strokeDash": "independent"}},
"vconcat": [
{
"width": 552, "height": 226,
"layer": [
{"data": {"name": "p1"},
 "mark": {"type": "line", "clip": true, "strokeWidth": 4, "strokeCap": "butt"},
 "encoding": {
  "x": {"field": "x", "type": "quantitative", "scale": {"domain": [-1.2, 1.2], "nice": false, "zero": false}, "axis": {"values": [-1,-0.75,-0.5,-0.25,0,0.25,0.5,0.75,1], "format": ".2f", "title": null}},
  "y": {"field": "y", "type": "quantitative", "scale": {"domain": [-0.05, 0.12], "nice": false, "zero": false}, "axis": {"values": [-0.04,0,0.04,0.08,0.12], "format": ".2f", "title": "Q̇ₛ′e²/GₜΔ₀²"}},
  "color": {"field": "s", "type": "nominal", "sort": null, "scale": {"domain": ["Δ′₀ = 0.20Δ₀","Δ′₀ = 0.40Δ₀","Δ′₀ = 0.60Δ₀"], "range": ["#4C72B0","#55A868","#C44E52"]}, "legend": {"orient": "none", "legendX": 37, "legendY": 191, "direction": "horizontal", "columns": 3, "title": null}},
  "strokeDash": {"field": "s", "type": "nominal", "sort": null, "scale": {"domain": ["Δ′₀ = 0.20Δ₀","Δ′₀ = 0.40Δ₀","Δ′₀ = 0.60Δ₀"], "range": [[4.5,7.4],[1,0],[16.6,7.2]]}, "legend": {"orient": "none", "legendX": 37, "legendY": 191, "direction": "horizontal", "columns": 3, "title": null}}
 }},
{"data": {"values": [{}]}, "mark": {"type": "rect", "fill": "#deeefc", "stroke": "#1a1a1a", "strokeWidth": 1.2},
 "encoding": {"x": {"datum": -0.352, "type": "quantitative"}, "x2": {"datum": 0.358}, "y": {"datum": 0.1147, "type": "quantitative"}, "y2": {"datum": 0.073}}},
{"data": {"values": [{}]}, "mark": {"type": "text", "align": "center", "baseline": "alphabetic", "font": "DejaVu Sans", "fontWeight": "bold", "fontSize": 19, "color": "#222222"},
 "encoding": {"x": {"datum": 0.003, "type": "quantitative"}, "y": {"datum": 0.098, "type": "quantitative"}, "text": {"value": "h = 0.00Δ₀"}}},
{"data": {"values": [{}]}, "mark": {"type": "text", "align": "right", "baseline": "alphabetic", "dx": -64, "font": "DejaVu Sans", "fontWeight": "bold", "fontSize": 19, "color": "#222222"},
 "encoding": {"x": {"datum": 0.003, "type": "quantitative"}, "y": {"datum": 0.0795, "type": "quantitative"}, "text": {"value": "T"}}},
{"data": {"values": [{}]}, "mark": {"type": "text", "align": "left", "baseline": "alphabetic", "dx": -64, "dy": 2, "font": "DejaVu Sans", "fontWeight": "bold", "fontSize": 15, "color": "#222222"},
 "encoding": {"x": {"datum": 0.003, "type": "quantitative"}, "y": {"datum": 0.0795, "type": "quantitative"}, "text": {"value": "bath"}}},
{"data": {"values": [{}]}, "mark": {"type": "text", "align": "left", "baseline": "alphabetic", "dx": -20, "font": "DejaVu Sans", "fontWeight": "bold", "fontSize": 19, "color": "#222222"},
 "encoding": {"x": {"datum": 0.003, "type": "quantitative"}, "y": {"datum": 0.0795, "type": "quantitative"}, "text": {"value": "= 0.20Δ₀"}}}
]
},
{
"width": 552, "height": 226,
"layer": [
{"data": {"name": "p2"},
 "mark": {"type": "line", "clip": true, "strokeWidth": 4, "strokeCap": "butt"},
 "encoding": {
  "x": {"field": "x", "type": "quantitative", "scale": {"domain": [-1.2, 1.2], "nice": false, "zero": false}, "axis": {"values": [-1,-0.75,-0.5,-0.25,0,0.25,0.5,0.75,1], "format": ".2f", "title": null}},
  "y": {"field": "y", "type": "quantitative", "scale": {"domain": [-0.05, 0.12], "nice": false, "zero": false}, "axis": {"values": [-0.04,0,0.04,0.08,0.12], "format": ".2f", "title": "Q̇ₛ′e²/GₜΔ₀²"}},
  "color": {"field": "s", "type": "nominal", "sort": null, "scale": {"domain": ["Δ′₀ = 0.20Δ₀","Δ′₀ = 0.40Δ₀","Δ′₀ = 0.60Δ₀"], "range": ["#4C72B0","#55A868","#C44E52"]}, "legend": null},
  "strokeDash": {"field": "s", "type": "nominal", "sort": null, "scale": {"domain": ["Δ′₀ = 0.20Δ₀","Δ′₀ = 0.40Δ₀","Δ′₀ = 0.60Δ₀"], "range": [[4.5,7.4],[1,0],[16.6,7.2]]}, "legend": null}
 }},
{"data": {"values": [{}]}, "mark": {"type": "rect", "fill": "#deeefc", "stroke": "#1a1a1a", "strokeWidth": 1.2},
 "encoding": {"x": {"datum": -0.555, "type": "quantitative"}, "x2": {"datum": 0.154}, "y": {"datum": 0.115, "type": "quantitative"}, "y2": {"datum": 0.0733}}},
{"data": {"values": [{}]}, "mark": {"type": "text", "align": "center", "baseline": "alphabetic", "font": "DejaVu Sans", "fontWeight": "bold", "fontSize": 19, "color": "#222222"},
 "encoding": {"x": {"datum": -0.2, "type": "quantitative"}, "y": {"datum": 0.097, "type": "quantitative"}, "text": {"value": "h = 0.20Δ₀"}}},
{"data": {"values": [{}]}, "mark": {"type": "text", "align": "right", "baseline": "alphabetic", "dx": -64, "font": "DejaVu Sans", "fontWeight": "bold", "fontSize": 19, "color": "#222222"},
 "encoding": {"x": {"datum": -0.2, "type": "quantitative"}, "y": {"datum": 0.08, "type": "quantitative"}, "text": {"value": "T"}}},
{"data": {"values": [{}]}, "mark": {"type": "text", "align": "left", "baseline": "alphabetic", "dx": -64, "dy": 2, "font": "DejaVu Sans", "fontWeight": "bold", "fontSize": 15, "color": "#222222"},
 "encoding": {"x": {"datum": -0.2, "type": "quantitative"}, "y": {"datum": 0.08, "type": "quantitative"}, "text": {"value": "bath"}}},
{"data": {"values": [{}]}, "mark": {"type": "text", "align": "left", "baseline": "alphabetic", "dx": -20, "font": "DejaVu Sans", "fontWeight": "bold", "fontSize": 19, "color": "#222222"},
 "encoding": {"x": {"datum": -0.2, "type": "quantitative"}, "y": {"datum": 0.08, "type": "quantitative"}, "text": {"value": "= 0.20Δ₀"}}}
]
},
{
"width": 552, "height": 226,
"layer": [
{"data": {"name": "p3"},
 "mark": {"type": "line", "clip": true, "strokeWidth": 4, "strokeCap": "butt"},
 "encoding": {
  "x": {"field": "x", "type": "quantitative", "scale": {"domain": [-1.2, 1.2], "nice": false, "zero": false}, "axis": {"values": [-1,-0.75,-0.5,-0.25,0,0.25,0.5,0.75,1], "format": ".2f", "title": "eV/Δ₀"}},
  "y": {"field": "y", "type": "quantitative", "scale": {"domain": [-0.05, 0.12], "nice": false, "zero": false}, "axis": {"values": [-0.04,0,0.04,0.08,0.12], "format": ".2f", "title": "Q̇ₛ′e²/GₜΔ₀²"}},
  "color": {"field": "s", "type": "nominal", "sort": null, "scale": {"domain": ["Δ′₀ = 0.20Δ₀","Δ′₀ = 0.40Δ₀","Δ′₀ = 0.60Δ₀"], "range": ["#4C72B0","#55A868","#C44E52"]}, "legend": null},
  "strokeDash": {"field": "s", "type": "nominal", "sort": null, "scale": {"domain": ["Δ′₀ = 0.20Δ₀","Δ′₀ = 0.40Δ₀","Δ′₀ = 0.60Δ₀"], "range": [[4.5,7.4],[1,0],[16.6,7.2]]}, "legend": null}
 }},
{"data": {"values": [{}]}, "mark": {"type": "rect", "fill": "#deeefc", "stroke": "#1a1a1a", "strokeWidth": 1.2},
 "encoding": {"x": {"datum": -0.755, "type": "quantitative"}, "x2": {"datum": -0.041}, "y": {"datum": 0.1163, "type": "quantitative"}, "y2": {"datum": 0.0742}}},
{"data": {"values": [{}]}, "mark": {"type": "text", "align": "center", "baseline": "alphabetic", "font": "DejaVu Sans", "fontWeight": "bold", "fontSize": 19, "color": "#222222"},
 "encoding": {"x": {"datum": -0.398, "type": "quantitative"}, "y": {"datum": 0.0995, "type": "quantitative"}, "text": {"value": "h = 0.40Δ₀"}}},
{"data": {"values": [{}]}, "mark": {"type": "text", "align": "right", "baseline": "alphabetic", "dx": -64, "font": "DejaVu Sans", "fontWeight": "bold", "fontSize": 19, "color": "#222222"},
 "encoding": {"x": {"datum": -0.398, "type": "quantitative"}, "y": {"datum": 0.082, "type": "quantitative"}, "text": {"value": "T"}}},
{"data": {"values": [{}]}, "mark": {"type": "text", "align": "left", "baseline": "alphabetic", "dx": -64, "dy": 2, "font": "DejaVu Sans", "fontWeight": "bold", "fontSize": 15, "color": "#222222"},
 "encoding": {"x": {"datum": -0.398, "type": "quantitative"}, "y": {"datum": 0.082, "type": "quantitative"}, "text": {"value": "bath"}}},
{"data": {"values": [{}]}, "mark": {"type": "text", "align": "left", "baseline": "alphabetic", "dx": -20, "font": "DejaVu Sans", "fontWeight": "bold", "fontSize": 19, "color": "#222222"},
 "encoding": {"x": {"datum": -0.398, "type": "quantitative"}, "y": {"datum": 0.082, "type": "quantitative"}, "text": {"value": "= 0.20Δ₀"}}}
]
}
],
"config": {
 "view": {"stroke": "#cccccc", "strokeWidth": 1},
 "axis": {"domain": false, "ticks": false, "grid": true, "gridColor": "#d9d9d9", "gridWidth": 1, "labelFont": "Liberation Sans", "labelFontSize": 14, "labelColor": "#262626", "titleFont": "DejaVu Sans", "titleFontWeight": "normal", "titleColor": "#262626"},
 "axisX": {"labelPadding": 6, "titleFontSize": 24, "titleFontStyle": "italic", "titlePadding": 2},
 "axisY": {"labelPadding": 10, "titleFontSize": 26, "titleFontStyle": "normal", "titlePadding": 5},
 "legend": {"symbolType": "stroke", "symbolSize": 1089, "symbolStrokeWidth": 4, "labelFont": "Liberation Sans", "labelFontSize": 15, "labelColor": "#262626", "labelOffset": 11, "labelLimit": 200, "fillColor": "#ffffff", "strokeColor": "#dddddd", "padding": 6, "cornerRadius": 3, "columnPadding": 30}
}
}
